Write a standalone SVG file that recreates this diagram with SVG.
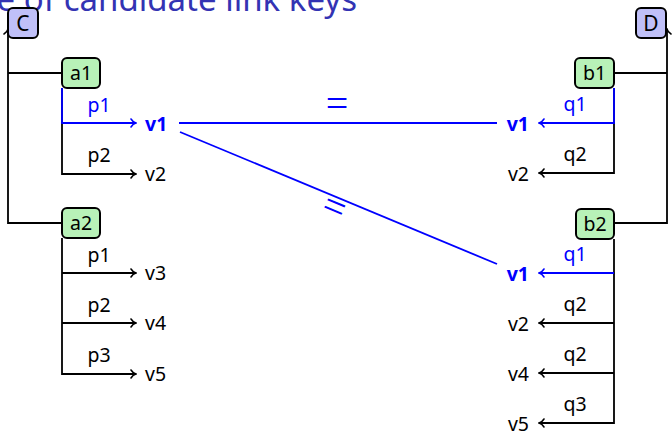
<svg xmlns="http://www.w3.org/2000/svg" width="672" height="432" viewBox="0 0 672 432">
<defs>
<style>
text{font-family:"Noto Sans","DejaVu Sans",sans-serif;font-size:19.5px;fill:#000}
.t{text-anchor:middle}
.blue{fill:#0000ff}
.bold{font-weight:bold}
.end{text-anchor:end}
.box{stroke:#000;stroke-width:2}
.cls{fill:#c0c0f8}
.ins{fill:#b8f2b8}
.big{font-size:21px}
.k{fill:none;stroke:#000;stroke-width:1.8}
.b{fill:none;stroke:#0000ff;stroke-width:1.8}
.eq{font-family:"Liberation Serif",serif;font-size:40px;text-anchor:middle;fill:#0000ff}
.title{font-size:33px;fill:#3333b3;text-anchor:end}
</style>
<marker id="ak" viewBox="-7 -5 8 10" refX="0" refY="0" markerWidth="8" markerHeight="10" markerUnits="userSpaceOnUse" orient="auto">
<path d="M -5 -4 C -3.5 -1.5 -1.5 -0.4 0 0 C -1.5 0.4 -3.5 1.5 -5 4" fill="none" stroke="#000" stroke-width="1.5" stroke-linecap="round"/>
</marker>
<marker id="ab" viewBox="-7 -5 8 10" refX="0" refY="0" markerWidth="8" markerHeight="10" markerUnits="userSpaceOnUse" orient="auto">
<path d="M -5 -4 C -3.5 -1.5 -1.5 -0.4 0 0 C -1.5 0.4 -3.5 1.5 -5 4" fill="none" stroke="#0000ff" stroke-width="1.5" stroke-linecap="round"/>
</marker>
</defs>
<text x="357" y="11" class="title">e of candidate link keys</text>
<g id="connectors">
<path class="k" d="M 62 73 H 8"/>
<path class="k" d="M 62 223 H 8 V 29" marker-end="url(#ak)"/>
<path class="k" d="M 614 73 H 667"/>
<path class="k" d="M 614 223 H 667 V 29" marker-end="url(#ak)"/>
<path class="k" d="M 62 88 V 174 H 136" marker-end="url(#ak)"/>
<path class="b" d="M 62 88 V 123 H 136" marker-end="url(#ab)"/>
<path class="k" d="M 62 238 V 374 H 136" marker-end="url(#ak)"/>
<path class="k" d="M 62 273 H 136" marker-end="url(#ak)"/>
<path class="k" d="M 62 323 H 136" marker-end="url(#ak)"/>
<path class="k" d="M 614 88 V 173 H 539" marker-end="url(#ak)"/>
<path class="b" d="M 614 88 V 123 H 539" marker-end="url(#ab)"/>
<path class="k" d="M 614 239 V 423 H 539" marker-end="url(#ak)"/>
<path class="k" d="M 614 373 H 539" marker-end="url(#ak)"/>
<path class="k" d="M 614 323 H 539" marker-end="url(#ak)"/>
<path class="b" d="M 614 273 H 539" marker-end="url(#ab)"/>
<path class="b" d="M 179 123 H 497"/>
<path class="b" d="M 180 132 L 497 264"/>
<text x="99" y="112" class="t blue">p1</text>
<text x="99" y="162" class="t">p2</text>
<text x="99" y="262" class="t">p1</text>
<text x="99" y="312" class="t">p2</text>
<text x="99" y="362" class="t">p3</text>
<text x="575" y="111" class="t blue">q1</text>
<text x="575" y="161" class="t">q2</text>
<text x="575" y="261" class="t blue">q1</text>
<text x="575" y="311" class="t">q2</text>
<text x="575" y="361" class="t">q2</text>
<text x="575" y="411" class="t">q3</text>
<text x="337" y="117" class="eq">=</text>
<text x="0" y="10" class="eq" transform="translate(333.5 209.5) rotate(22.6)">=</text>
</g>
<g id="C"><rect class="box cls" x="8" y="8" width="30" height="30" rx="5"/><text x="23" y="31" class="t big">C</text></g>
<g id="D"><rect class="box cls" x="636" y="8" width="30" height="30" rx="5"/><text x="651" y="31" class="t big">D</text></g>
<g id="a1"><rect class="box ins" x="62" y="58" width="38" height="30" rx="5"/><text x="81" y="80" class="t">a1</text></g>
<g id="a2"><rect class="box ins" x="62" y="208" width="38" height="30" rx="5"/><text x="81" y="230" class="t">a2</text></g>
<g id="b1"><rect class="box ins" x="575" y="58" width="39" height="30" rx="5"/><text x="594.5" y="80" class="t">b1</text></g>
<g id="b2"><rect class="box ins" x="576" y="209" width="38" height="30" rx="5"/><text x="595" y="231" class="t">b2</text></g>
<g id="a1v1"><text x="145" y="131" class="blue bold">v1</text></g>
<g id="a1v2"><text x="145" y="181">v2</text></g>
<g id="a2v3"><text x="145" y="280">v3</text></g>
<g id="a2v4"><text x="145" y="330">v4</text></g>
<g id="a2v5"><text x="145" y="381">v5</text></g>
<g id="b1v1"><text x="529" y="131" class="end blue bold">v1</text></g>
<g id="b1v2"><text x="529" y="181" class="end">v2</text></g>
<g id="b2v1"><text x="529" y="281" class="end blue bold">v1</text></g>
<g id="b2v2"><text x="529" y="331" class="end">v2</text></g>
<g id="b2v4"><text x="529" y="381" class="end">v4</text></g>
<g id="b2v5"><text x="529" y="431" class="end">v5</text></g>
</svg>
